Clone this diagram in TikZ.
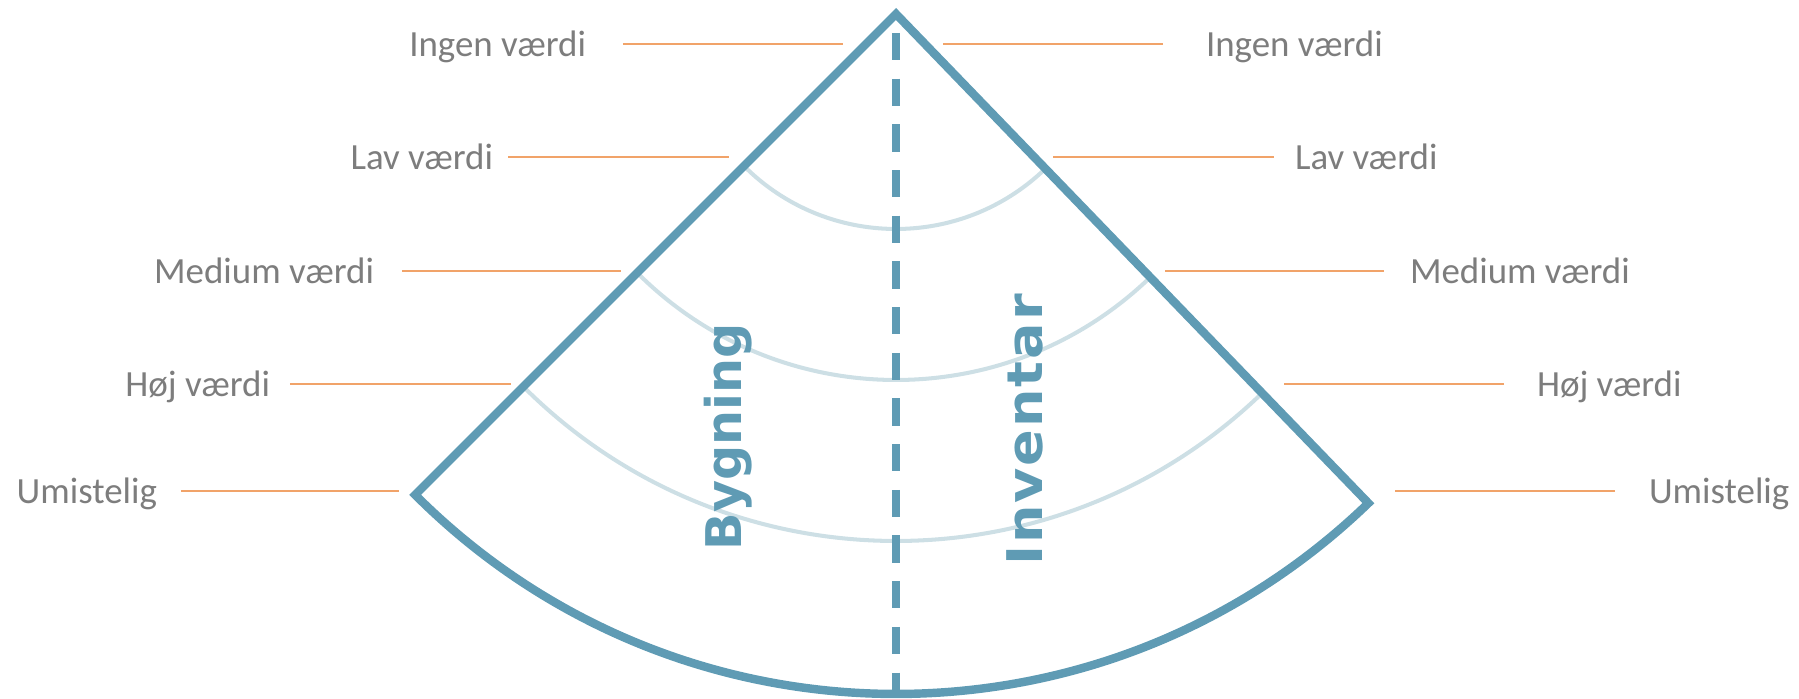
\documentclass[tikz,border=0pt]{standalone}
\usepackage{fontspec}
\setmainfont{Carlito}
\newfontfamily\titlefont{DejaVu Sans}
\newfontfamily\widetitlefont[FakeStretch=1.1, LetterSpace=4]{DejaVu Sans}
\usepackage{xcolor}
\usepackage{tikz}

\definecolor{sectorblue}{RGB}{95,155,180}
\definecolor{ringblue}{RGB}{205,223,229}
\definecolor{tickorange}{RGB}{241,163,105}
\definecolor{labelgray}{RGB}{125,125,125}

\begin{document}
\begin{tikzpicture}[
  x=0.02cm, y=0.02cm,
  edge/.style={draw=sectorblue, line width=4.8pt, line join=miter},
  ring/.style={draw=ringblue, line width=2.3pt},
  divider/.style={draw=sectorblue, line width=4.8pt, dash pattern=on 15.5pt off 10.5pt},
  tick/.style={draw=tickorange, line width=1.1pt},
  lbl/.style={text=labelgray, font=\fontsize{21}{25}\selectfont, inner sep=0pt, outer sep=0pt, text height=18.4pt, text depth=4pt},
  part/.style={text=sectorblue, font=\titlefont\bfseries\fontsize{28}{32}\selectfont, rotate=90, inner sep=0pt}
]
  \useasboundingbox (0,0) rectangle (1799,699);

  \coordinate (apex) at (896,685);
  \coordinate (dtop) at (896,666);
  \coordinate (bot)  at (896,5);

  % value rings
  \draw[ring] (apex) ++(225:215) arc[start angle=225, end angle=314, radius=215];
  \draw[ring] (apex) ++(225:366) arc[start angle=225, end angle=314, radius=366];
  \draw[ring] (apex) ++(225:527) arc[start angle=225, end angle=314, radius=527];

  % sector outline and divider
  \draw[divider] (dtop) -- (bot);
  \draw[edge] (apex) -- ++(225:680) arc[start angle=225, end angle=314, radius=680] -- cycle;

  \node[part] (bygning)  at (728,262)  {Bygning};
  \node[part, font=\widetitlefont\bfseries\fontsize{28}{32}\selectfont] (inventar) at (1025,269) {Inventar};

  % left labels
  \node[lbl, anchor=east] (L1) at (586,655) {Ingen værdi};
  \node[lbl, anchor=east] (L2) at (493,542) {Lav værdi};
  \node[lbl, anchor=east] (L3) at (374,428) {Medium værdi};
  \node[lbl, anchor=east] (L4) at (270,315) {Høj værdi};
  \node[lbl, anchor=east] (L5) at (157,208) {Umistelig};

  \coordinate (l1) at (843,655);
  \coordinate (l2) at (729,542);
  \coordinate (l3) at (621,428);
  \coordinate (l4) at (511,315);
  \coordinate (l5) at (399,208);

  \draw[tick, shorten <=0.74cm] (L1) -- (l1);
  \draw[tick, shorten <=0.30cm] (L2) -- (l2);
  \draw[tick, shorten <=0.56cm] (L3) -- (l3);
  \draw[tick, shorten <=0.40cm] (L4) -- (l4);
  \draw[tick, shorten <=0.48cm] (L5) -- (l5);

  % right labels
  \node[lbl, anchor=west] (R1) at (1206,655) {Ingen værdi};
  \node[lbl, anchor=west] (R2) at (1295,542) {Lav værdi};
  \node[lbl, anchor=west] (R3) at (1410,428) {Medium værdi};
  \node[lbl, anchor=west] (R4) at (1537,315) {Høj værdi};
  \node[lbl, anchor=west] (R5) at (1649,208) {Umistelig};

  \coordinate (r1) at (943,655);
  \coordinate (r2) at (1053,542);
  \coordinate (r3) at (1165,428);
  \coordinate (r4) at (1284,315);
  \coordinate (r5) at (1395,208);

  \draw[tick, shorten <=0.86cm] (R1) -- (r1);
  \draw[tick, shorten <=0.42cm] (R2) -- (r2);
  \draw[tick, shorten <=0.52cm] (R3) -- (r3);
  \draw[tick, shorten <=0.66cm] (R4) -- (r4);
  \draw[tick, shorten <=0.68cm] (R5) -- (r5);
\end{tikzpicture}
\end{document}
